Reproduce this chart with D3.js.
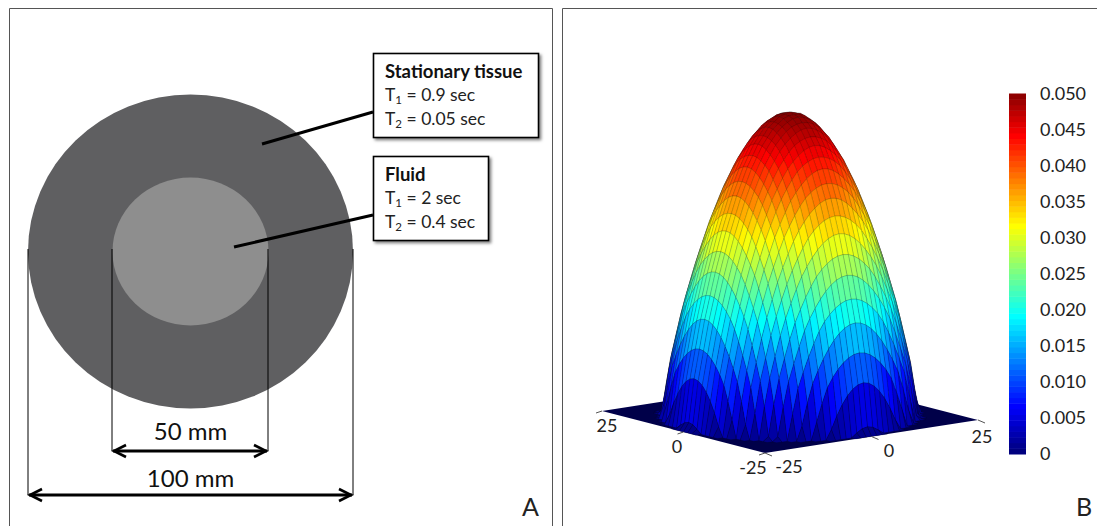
<!DOCTYPE html>
<html>
<head>
<meta charset="utf-8">
<script src="https://cdn.jsdelivr.net/npm/d3@7"></script>
<style>
  html, body { margin: 0; padding: 0; background: #fff; overflow: hidden; }
  svg { display: block; font-family: Lato, "Open Sans", sans-serif; }
</style>
</head>
<body>
<svg width="1097" height="526"></svg>
<script>
// panel A
const tissueBoxes = [
  { title: "Stationary tissue", t1: "0.9 sec", t2: "0.05 sec" },
  { title: "Fluid", t1: "2 sec", t2: "0.4 sec" }
];
const diameters = [50, 100];

// panel B, flow profile: radius (mm) -> value
const profileRadius = [0, 2.5, 5, 7.5, 10, 12.5, 15, 17.5, 20, 22.5, 24, 36];
const profileValue = [0.05, 0.0495, 0.048, 0.0455, 0.042, 0.0375, 0.032, 0.0255, 0.018, 0.0085, 0, 0];
const gridTicks = [-25, 0, 25];
const colorTicks = [0, 0.005, 0.01, 0.015, 0.02, 0.025, 0.03, 0.035, 0.04, 0.045, 0.05];
const jetStops = ["#00007f", "#0000ff", "#007fff", "#00ffff", "#7fff7f", "#ffff00", "#ff7f00", "#ff0000", "#7f0000"];

const svg = d3.select("svg");

// ---- panel A ----
svg.append("path").attr("d", "M9.5,526V8.5H552.5V526").attr("fill", "none").attr("stroke", "#555");
svg.append("path").attr("d", "M562.5,526V8.5H1097").attr("fill", "none").attr("stroke", "#555");

const cx = 190.5, cy = 251.5;

svg.append("ellipse").attr("cx", cx).attr("cy", cy).attr("rx", 162.5).attr("ry", 157).attr("fill", "#5f5f61");
svg.append("ellipse").attr("cx", cx).attr("cy", cy).attr("rx", 78).attr("ry", 74).attr("fill", "#8e8e8e");

const defs = svg.append("defs");
defs.append("filter").attr("id", "shadow").attr("x", "-10%").attr("y", "-10%").attr("width", "125%").attr("height", "125%")
  .append("feDropShadow").attr("dx", 2).attr("dy", 2).attr("stdDeviation", 1.5).attr("flood-color", "#000").attr("flood-opacity", 0.5);
defs.append("filter").attr("id", "soft").append("feGaussianBlur").attr("stdDeviation", 0.45);
defs.append("marker").attr("id", "head").attr("viewBox", "-14 -8 16 16").attr("refX", 0).attr("refY", 0)
  .attr("markerUnits", "userSpaceOnUse").attr("markerWidth", 16).attr("markerHeight", 16).attr("orient", "auto-start-reverse")
  .append("path").attr("d", "M-13,-6L-1,0L-13,6").attr("fill", "none").attr("stroke", "#000").attr("stroke-width", 2.6);

// leader lines
const leaders = [[373, 112, 262, 144], [373, 215, 234, 247]];
svg.selectAll(".leader").data(leaders).join("line").attr("class", "leader")
  .attr("x1", d => d[0]).attr("y1", d => d[1]).attr("x2", d => d[2]).attr("y2", d => d[3])
  .attr("stroke", "#000").attr("stroke-width", 3);

const boxGeom = [{ x: 373, y: 53, w: 165, h: 84 }, { x: 373, y: 156, w: 115, h: 84 }];
tissueBoxes.forEach((b, i) => {
  const g = boxGeom[i];
  svg.append("rect").attr("x", g.x + 0.5).attr("y", g.y + 0.5).attr("width", g.w).attr("height", g.h)
    .attr("fill", "#fff").attr("stroke", "#000").attr("stroke-width", 1.6).attr("filter", "url(#shadow)");
  const tx = g.x + 12;
  svg.append("text").attr("x", tx).attr("y", g.y + 25).attr("font-size", 18.5).attr("font-weight", 700).attr("fill", "#111").text(b.title);
  [["1", b.t1, 48], ["2", b.t2, 72]].forEach(([sub, val, dy]) => {
    const t = svg.append("text").attr("x", tx).attr("y", g.y + dy).attr("font-size", 17.5).attr("fill", "#222");
    t.append("tspan").text("T");
    t.append("tspan").attr("font-size", 11.5).attr("dy", 3).text(sub);
    t.append("tspan").attr("dy", -3).text(" = " + val);
  });
});

// dimension lines
const dimY = { 50: 451, 100: 495 };
const dimX = { 50: [112, 268], 100: [28, 353] };
diameters.forEach(d => {
  const [x0, x1] = dimX[d], y = dimY[d];
  [x0, x1].forEach(x => svg.append("line").attr("x1", x).attr("x2", x).attr("y1", 249).attr("y2", y)
    .attr("stroke", "#000").attr("stroke-width", 1));
  svg.append("line").attr("x1", x0 + 1).attr("x2", x1 - 1).attr("y1", y).attr("y2", y)
    .attr("stroke", "#000").attr("stroke-width", 2.8)
    .attr("marker-start", "url(#head)").attr("marker-end", "url(#head)");
  svg.append("text").attr("x", cx).attr("y", y - (d === 100 ? 8 : 11)).attr("text-anchor", "middle")
    .attr("font-size", 24).attr("fill", "#111").text(d + " mm");
});

svg.append("text").attr("x", 522).attr("y", 516).attr("font-size", 25).attr("fill", "#222").text("A");
svg.append("text").attr("x", 1076).attr("y", 516).attr("font-size", 25).attr("fill", "#222").text("B");

// ---- panel B ----
const profile = d3.scaleLinear().domain(profileRadius).range(profileValue);
const jet = d3.scaleLinear()
  .domain(jetStops.map((c, i) => 0.05 * i / (jetStops.length - 1)))
  .range(jetStops).clamp(true);
const lineAlpha = d3.scaleLinear().domain([0, 0.05]).range([0.32, 0.25]);

// oblique projection of the floor and the height
const px = d3.scaleLinear().domain([-25, 25]).range([0, 213]);
const pxy = d3.scaleLinear().domain([-25, 25]).range([0, -33]);
const py = d3.scaleLinear().domain([-25, 25]).range([0, -163]);
const pyy = d3.scaleLinear().domain([-25, 25]).range([0, -42]);
const pz = d3.scaleLinear().domain([0, 0.05]).range([0, -303.5]);
const front = [765, 453];
const project = (x, y, z) => [front[0] + px(x) + py(y), front[1] + pxy(x) + pyy(y) + pz(z)];

const grid = d3.range(-25, 25.01, 1.25);
const height = (x, y) => profile(Math.hypot(x, y));

const cells = [];
for (let i = 0; i < grid.length - 1; i++) {
  for (let j = 0; j < grid.length - 1; j++) {
    const [x0, x1, y0, y1] = [grid[i], grid[i + 1], grid[j], grid[j + 1]];
    const zs = [height(x0, y0), height(x1, y0), height(x1, y1), height(x0, y1)];
    if (d3.max(zs) === 0) continue; // flat floor is drawn on its own
    cells.push({
      pts: [project(x0, y0, zs[0]), project(x1, y0, zs[1]), project(x1, y1, zs[2]), project(x0, y1, zs[3])],
      mean: d3.mean(zs),
      depth: x0 + y0 // far cells first
    });
  }
}
cells.sort((a, b) => d3.descending(a.depth, b.depth));

const line = d3.line();
const surface = svg.append("g").attr("filter", "url(#soft)");
surface.append("path")
  .attr("d", line([project(-25, -25, 0), project(25, -25, 0), project(25, 25, 0), project(-25, 25, 0)]) + "Z")
  .attr("fill", "#00004a");
surface.selectAll(".cell").data(cells).join("path").attr("class", "cell")
  .attr("d", d => line(d.pts) + "Z")
  .attr("fill", d => jet(d.mean))
  .attr("stroke", "#101010")
  .attr("stroke-opacity", d => lineAlpha(d.mean))
  .attr("stroke-width", 0.6);

// floor ticks
const xLabelDx = d3.scaleLinear().domain([-25, 0, 25]).range([24, 17.5, 4]);
const xLabelDy = d3.scaleLinear().domain([-25, 0, 25]).range([20, 20, 23]);
const yLabelDx = d3.scaleLinear().domain([-25, 0, 25]).range([-12, -6.5, 5]);
const floorTicks = svg.append("g").attr("fill", "#222").attr("font-size", 18);
gridTicks.forEach(t => {
  const a = project(t, -25, 0), b = project(-25, t, 0);
  floorTicks.append("line").attr("x1", a[0]).attr("y1", a[1]).attr("x2", a[0] + 7).attr("y2", a[1] + 3).attr("stroke", "#555");
  floorTicks.append("line").attr("x1", b[0]).attr("y1", b[1]).attr("x2", b[0] - 6).attr("y2", b[1] + 2).attr("stroke", "#555");
  floorTicks.append("text").attr("x", a[0] + xLabelDx(t)).attr("y", a[1] + xLabelDy(t)).attr("text-anchor", "middle").text(t);
  floorTicks.append("text").attr("x", b[0] + yLabelDx(t)).attr("y", b[1] + 20.5).attr("text-anchor", "middle").text(t);
});

// colour bar
const cScale = d3.scaleLinear().domain([0, 0.05]).range([454, 93.5]);
const barSteps = d3.range(0, 0.05, 0.05 / 64);
svg.append("g").selectAll("rect").data(barSteps).join("rect")
  .attr("x", 1009).attr("width", 17)
  .attr("y", d => cScale(d + 0.05 / 64))
  .attr("height", d => cScale(d) - cScale(d + 0.05 / 64) + 0.5)
  .attr("fill", d => jet(d));

const axis = d3.axisRight(cScale).tickValues(colorTicks).tickSize(0).tickPadding(14)
  .tickFormat(d => d === 0 ? "0" : d3.format(".3f")(d));
svg.append("g").attr("transform", "translate(1026,0)").call(axis)
  .call(g => g.select(".domain").remove())
  .call(g => g.selectAll("text").attr("font-size", 18).attr("font-family", "Lato").attr("fill", "#222"));
</script>
</body>
</html>
